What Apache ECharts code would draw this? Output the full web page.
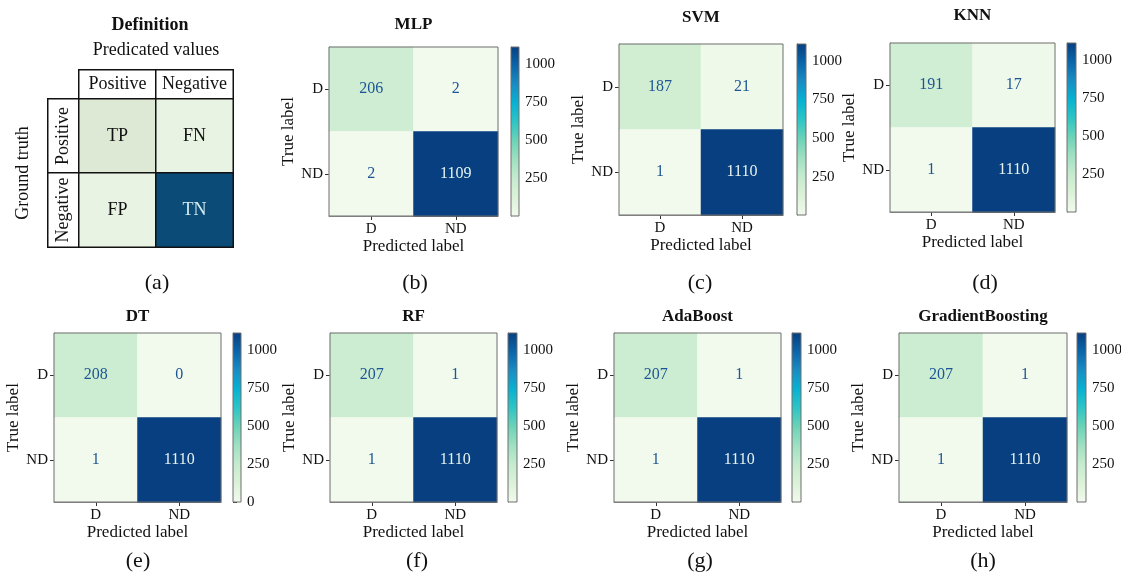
<!DOCTYPE html>
<html>
<head>
<meta charset="utf-8">
<script src="https://cdn.jsdelivr.net/npm/echarts@6/dist/echarts.min.js"></script>
<style>
  html, body { margin: 0; background: #fff; }
  #chart { width: 1121px; height: 572px; }
</style>
</head>
<body>
<div id="chart"></div>
<script>
// confusion matrices, rows = true label, cols = predicted label
const CLASSES = ['D', 'ND'];
const MODELS = ['MLP', 'SVM', 'KNN', 'DT', 'RF', 'AdaBoost', 'GradientBoosting'];
const MATRICES = [
  [[206, 2], [2, 1109]],
  [[187, 21], [1, 1110]],
  [[191, 17], [1, 1110]],
  [[208, 0], [1, 1110]],
  [[207, 1], [1, 1110]],
  [[207, 1], [1, 1110]],
  [[207, 1], [1, 1110]],
];
const CBAR_TICKS = [0, 250, 500, 750, 1000];
const CAPTIONS = ['(a)', '(b)', '(c)', '(d)', '(e)', '(f)', '(g)', '(h)'];

// panel (a): definition table
const DEF_HEADERS = ['Positive', 'Negative'];
const DEF_CELLS = [['TP', 'FN'], ['FP', 'TN']];
const DEF_SHADE = [[1, 2], [2, 3]];

// styles / layout
const FONT = '"Liberation Serif", "Times New Roman", serif';
const GNBU = ['#f2faee', '#dcf2d8', '#c6ebcf', '#a0e0c2', '#6dd3b7',
              '#2ec5c5', '#07b2d2', '#1a8cc3', '#0b65a8', '#073f80'];
const DEF_COLORS = ['#ffffff', '#dde8d5', '#e8f3e3', '#0a4b77'];
const DARK_TXT = '#1d5594', LIGHT_TXT = '#e6f3ee';
const SPINE = '#6e6e6e';
// [left, top, width, height, colorbar left, colorbar width, title y]
const LAYOUT = [
  [329, 47, 169, 169, 511, 8, 25],
  [619, 44, 164, 171, 797, 9, 18],
  [890, 43, 165, 169, 1067, 9, 16],
  [54, 333, 167, 169, 233, 8, 317],
  [330, 333, 167, 169, 508, 9, 317],
  [614, 333, 167, 169, 792, 9, 317],
  [899, 333, 168, 169, 1077, 9, 317],
];
const CAPTION_POS = [[157, 283], [415, 283], [700, 283], [985, 283],
                     [138, 561], [417, 561], [700, 561], [983, 561]];

const chart = echarts.init(document.getElementById('chart'));

const grid = [], xAxis = [], yAxis = [], series = [], visualMap = [], graphic = [];
const hidden = { show: false };
const txt = (size, extra) => Object.assign({ fontFamily: FONT, fontSize: size, color: '#111' }, extra);
const spineLine = { show: true, lineStyle: { color: SPINE, width: 1 } };
const tick = extra => Object.assign({ show: true, length: 4, lineStyle: { color: '#333', width: 1 } }, extra);

// ---- panel (a) ----
const defCell = { borderColor: '#111', borderWidth: 1.5 };
grid.push({ left: 79, top: 70, width: 154, height: 29, outerBoundsMode: 'none' });
xAxis.push({ gridIndex: 0, type: 'category', data: DEF_HEADERS, position: 'top',
  axisLine: hidden, axisTick: hidden, axisLabel: hidden, splitLine: hidden,
  name: 'Predicated values', nameLocation: 'middle', nameGap: 11, nameTextStyle: txt(18) });
yAxis.push({ gridIndex: 0, type: 'category', data: ['h'], show: false });
series.push({ type: 'heatmap', xAxisIndex: 0, yAxisIndex: 0,
  data: DEF_HEADERS.map((h, i) => [i, 0, 0]),
  itemStyle: defCell, emphasis: { disabled: true },
  label: { show: true, ...txt(18), formatter: p => DEF_HEADERS[p.value[0]] } });

grid.push({ left: 48, top: 99, width: 31, height: 148, outerBoundsMode: 'none' });
xAxis.push({ gridIndex: 1, type: 'category', data: ['h'], show: false });
yAxis.push({ gridIndex: 1, type: 'category', data: DEF_HEADERS, inverse: true,
  axisLine: hidden, axisTick: hidden, axisLabel: hidden, splitLine: hidden,
  name: 'Ground truth', nameLocation: 'middle', nameGap: 16, nameTextStyle: txt(18) });
series.push({ type: 'heatmap', xAxisIndex: 1, yAxisIndex: 1,
  data: DEF_HEADERS.map((h, i) => [0, i, 0]),
  itemStyle: defCell, emphasis: { disabled: true },
  label: { show: true, rotate: 90, ...txt(18), formatter: p => DEF_HEADERS[p.value[1]] } });

grid.push({ left: 79, top: 99, width: 154, height: 148, outerBoundsMode: 'none' });
xAxis.push({ gridIndex: 2, type: 'category', data: DEF_HEADERS, show: false });
yAxis.push({ gridIndex: 2, type: 'category', data: DEF_HEADERS, inverse: true, show: false });
const defData = [];
DEF_CELLS.forEach((row, i) => row.forEach((c, j) => {
  defData.push({ value: [j, i, DEF_SHADE[i][j]],
    label: { color: DEF_SHADE[i][j] === 3 ? '#d6ecf2' : '#111' } });
}));
series.push({ type: 'heatmap', xAxisIndex: 2, yAxisIndex: 2, data: defData,
  itemStyle: defCell, emphasis: { disabled: true },
  label: { show: true, fontFamily: FONT, fontSize: 18,
    formatter: p => DEF_CELLS[p.value[1]][p.value[0]] } });
visualMap.push({ type: 'piecewise', show: false, seriesIndex: [0, 1, 2], dimension: 2,
  pieces: DEF_COLORS.map((c, i) => ({ value: i, color: c })) });

graphic.push({ type: 'text', x: 150, y: 25,
  style: { text: 'Definition', font: 'bold 18px ' + FONT, fill: '#111',
    textAlign: 'center', textVerticalAlign: 'middle' } });

// ---- panels (b)-(h) ----
MATRICES.forEach((m, k) => {
  const [L, T, W, H, cbL, cbW, ty] = LAYOUT[k];
  const flat = m.flat();
  const vmin = Math.min(...flat), vmax = Math.max(...flat);
  const thresh = (vmin + vmax) / 2;
  const gi = grid.length, si = series.length;

  // matrix
  grid.push({ left: L, top: T, width: W, height: H, show: true, z: 5,
    backgroundColor: 'transparent', borderColor: SPINE, borderWidth: 1,
    outerBoundsMode: 'none' });
  xAxis.push({ gridIndex: gi, type: 'category', data: CLASSES,
    axisLine: spineLine, splitLine: hidden,
    axisTick: tick({ alignWithLabel: true }),
    axisLabel: { margin: 6, ...txt(15) },
    name: 'Predicted label', nameLocation: 'middle', nameGap: 22, nameTextStyle: txt(17) });
  yAxis.push({ gridIndex: gi, type: 'category', data: CLASSES, inverse: true,
    axisLine: spineLine, splitLine: hidden,
    axisTick: tick({ alignWithLabel: true }),
    axisLabel: { margin: 6, ...txt(15) },
    name: 'True label', nameLocation: 'middle', nameGap: 32, nameTextStyle: txt(17) });
  const data = [];
  m.forEach((row, i) => row.forEach((v, j) => {
    data.push({ value: [j, i, v], label: { color: v > thresh ? LIGHT_TXT : DARK_TXT } });
  }));
  series.push({ type: 'heatmap', xAxisIndex: gi, yAxisIndex: gi, data,
    emphasis: { disabled: true },
    label: { show: true, fontFamily: FONT, fontSize: 16 } });
  visualMap.push({ type: 'continuous', show: false, seriesIndex: si, dimension: 2,
    min: vmin, max: vmax, inRange: { color: GNBU } });

  // colorbar
  const ticks = CBAR_TICKS.filter(t => t >= vmin && t <= vmax);
  grid.push({ left: cbL, top: T, width: cbW, height: H, outerBoundsMode: 'none' });
  xAxis.push({ gridIndex: gi + 1, type: 'value', min: 0, max: 1, show: false });
  yAxis.push({ gridIndex: gi + 1, type: 'value', min: vmin, max: vmax, position: 'right',
    axisLine: spineLine, splitLine: hidden,
    axisTick: tick({ customValues: ticks }),
    axisLabel: { margin: 6, customValues: ticks, formatter: v => String(v), ...txt(15) } });
  series.push({ type: 'custom', xAxisIndex: gi + 1, yAxisIndex: gi + 1,
    data: [[0, vmin, vmax]], encode: { x: 0, y: [1, 2] }, silent: true,
    renderItem: (params, api) => {
      const p0 = api.coord([0, api.value(2)]);
      const p1 = api.coord([1, api.value(1)]);
      return { type: 'rect',
        shape: { x: p0[0], y: p0[1], width: p1[0] - p0[0], height: p1[1] - p0[1] },
        style: { stroke: SPINE, lineWidth: 1,
          fill: new echarts.graphic.LinearGradient(0, 1, 0, 0,
            GNBU.map((c, i) => ({ offset: i / (GNBU.length - 1), color: c }))) } };
    } });

  graphic.push({ type: 'text', x: L + W / 2, y: ty,
    style: { text: MODELS[k], font: 'bold 17px ' + FONT, fill: '#111',
      textAlign: 'center', textVerticalAlign: 'middle' } });
});

CAPTIONS.forEach((c, i) => {
  graphic.push({ type: 'text', x: CAPTION_POS[i][0], y: CAPTION_POS[i][1],
    style: { text: c, font: '22px ' + FONT, fill: '#111',
      textAlign: 'center', textVerticalAlign: 'middle' } });
});

chart.setOption({
  backgroundColor: '#fff',
  animation: false,
  textStyle: { fontFamily: FONT },
  grid, xAxis, yAxis, series, visualMap, graphic,
});
</script>
</body>
</html>
